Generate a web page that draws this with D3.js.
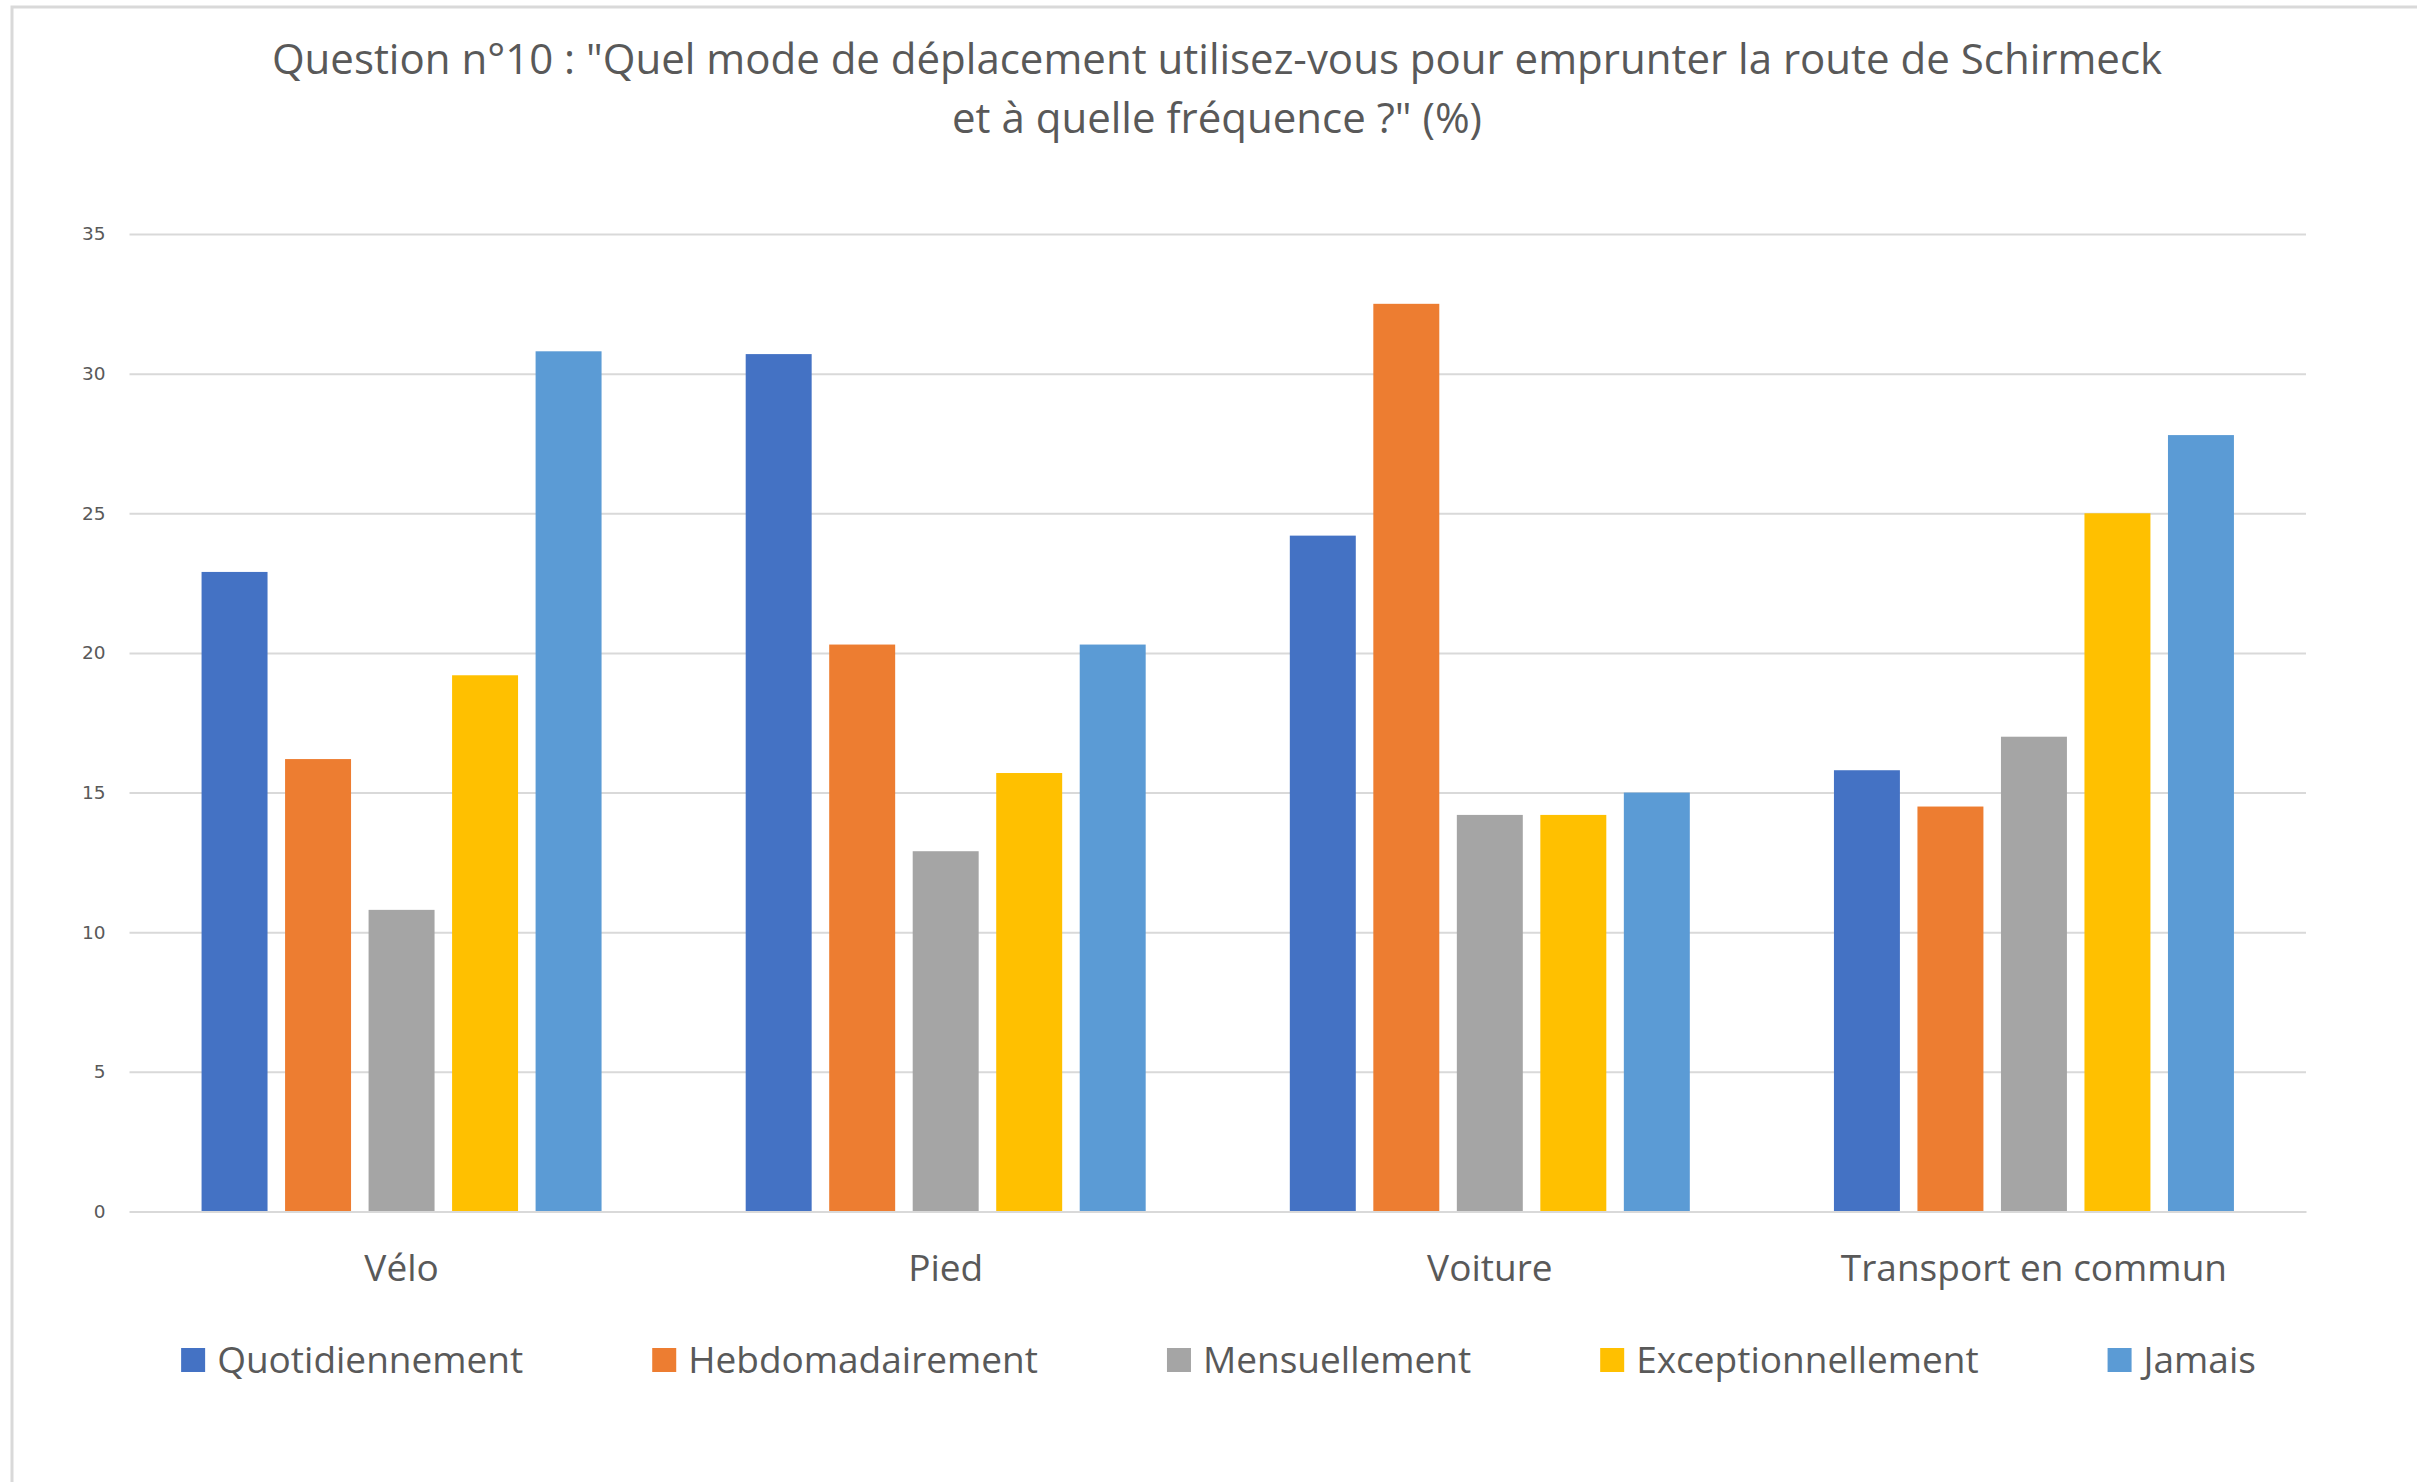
<!DOCTYPE html>
<html lang="fr">
<head>
<meta charset="utf-8">
<title>Question n°10 – mode de déplacement, route de Schirmeck</title>
<script src="https://cdn.jsdelivr.net/npm/d3@7"></script>
<style>
  html, body { margin: 0; padding: 0; background: #ffffff; }
  svg { display: block; }
</style>
</head>
<body>
<svg id="chart"></svg>
<script>
// Survey answers (%) by travel mode and frequency
const categories = ["Vélo", "Pied", "Voiture", "Transport en commun"];
const seriesNames = ["Quotidiennement", "Hebdomadairement", "Mensuellement", "Exceptionnellement", "Jamais"];
const quotidiennement    = [22.9, 30.7, 24.2, 15.8];
const hebdomadairement   = [16.2, 20.3, 32.5, 14.5];
const mensuellement      = [10.8, 12.9, 14.2, 17.0];
const exceptionnellement = [19.2, 15.7, 14.2, 25.0];
const jamais             = [30.8, 20.3, 15.0, 27.8];
const yTicks = [0, 5, 10, 15, 20, 25, 30, 35];
const titleLines = [
  "Question n°10 : \"Quel mode de déplacement utilisez-vous pour emprunter la route de Schirmeck",
  "et à quelle fréquence ?\" (%)"
];

const seriesValues = [quotidiennement, hebdomadairement, mensuellement, exceptionnellement, jamais];
const colors = ["#4472C4", "#ED7D31", "#A5A5A5", "#FFC000", "#5B9BD5"];

const W = 2417, H = 1482;
const textColor = "#595959";
const gridColor = "#d9d9d9";
const mainFont = "'Open Sans', 'Noto Sans', sans-serif";

const svg = d3.select("#chart").attr("width", W).attr("height", H);

// Chart frame
svg.append("rect")
  .attr("x", 12).attr("y", 7)
  .attr("width", W + 20).attr("height", H + 20)
  .attr("fill", "#ffffff")
  .attr("stroke", gridColor).attr("stroke-width", 3);

const plot = { left: 129.5, right: 2306, top: 234, bottom: 1211.5 };

const x0 = d3.scaleBand()
  .domain(categories)
  .range([plot.left, plot.right])
  .padding(0);

const x1 = d3.scaleBand()
  .domain(seriesNames)
  .range([0, x0.bandwidth()])
  .paddingInner(0.21)
  .paddingOuter(0.863);

const y = d3.scaleLinear()
  .domain([0, 35])
  .range([plot.bottom, plot.top]);

// Horizontal gridlines + value labels
const yAxis = d3.axisLeft(y)
  .tickValues(yTicks)
  .tickSize(-(plot.right - plot.left))
  .tickPadding(24)
  .tickFormat(d3.format("d"));

const gY = svg.append("g")
  .attr("transform", `translate(${plot.left},0)`)
  .call(yAxis);
gY.select(".domain").remove();
gY.selectAll(".tick line")
  .attr("stroke", gridColor)
  .attr("stroke-width", 2);
gY.selectAll(".tick text")
  .attr("fill", textColor)
  .style("font-family", "'DejaVu Sans', Verdana, sans-serif")
  .style("font-size", "18.5px");

// Bars
const groups = svg.append("g").selectAll("g")
  .data(categories)
  .join("g")
  .attr("transform", d => `translate(${x0(d)},0)`);

groups.selectAll("rect")
  .data((cat, ci) => seriesNames.map((s, si) => ({ series: s, si, value: seriesValues[si][ci] })))
  .join("rect")
  .attr("x", d => x1(d.series))
  .attr("width", x1.bandwidth())
  .attr("y", d => y(d.value))
  .attr("height", d => y(0) - y(d.value))
  .attr("fill", d => colors[d.si]);

// Category axis
const xAxis = d3.axisBottom(x0).tickSize(0).tickPadding(0);
const gX = svg.append("g")
  .attr("transform", `translate(0,${plot.bottom})`)
  .call(xAxis);
gX.select(".domain")
  .attr("stroke", gridColor)
  .attr("stroke-width", 2);
gX.selectAll(".tick text")
  .attr("fill", textColor)
  .attr("dy", 0)
  .attr("y", 69.5)
  .style("font-family", mainFont)
  .style("font-size", "37px");

// Title
svg.append("g").selectAll("text")
  .data(titleLines)
  .join("text")
  .attr("x", 1217)
  .attr("y", (d, i) => 74 + i * 59)
  .attr("text-anchor", "middle")
  .attr("fill", textColor)
  .style("font-family", mainFont)
  .style("font-size", "42px")
  .text(d => d);

// Legend laid out as one centred row
const legendY = 1360, sw = 24, swGap = 12, itemGap = 129;
const legend = svg.append("g");
const items = legend.selectAll("g")
  .data(seriesNames)
  .join("g");
items.append("rect")
  .attr("width", sw).attr("height", sw)
  .attr("y", legendY - sw / 2)
  .attr("fill", (d, i) => colors[i]);
items.append("text")
  .attr("x", sw + swGap)
  .attr("y", legendY + 13)
  .attr("fill", textColor)
  .style("font-family", mainFont)
  .style("font-size", "37px")
  .text(d => d);

const widths = [];
items.each(function () { widths.push(this.getBBox().width); });
const total = d3.sum(widths) + itemGap * (widths.length - 1);
let cursor = 1218.5 - total / 2;
items.attr("transform", (d, i) => {
  const tx = cursor;
  cursor += widths[i] + itemGap;
  return `translate(${tx},0)`;
});
</script>
</body>
</html>
